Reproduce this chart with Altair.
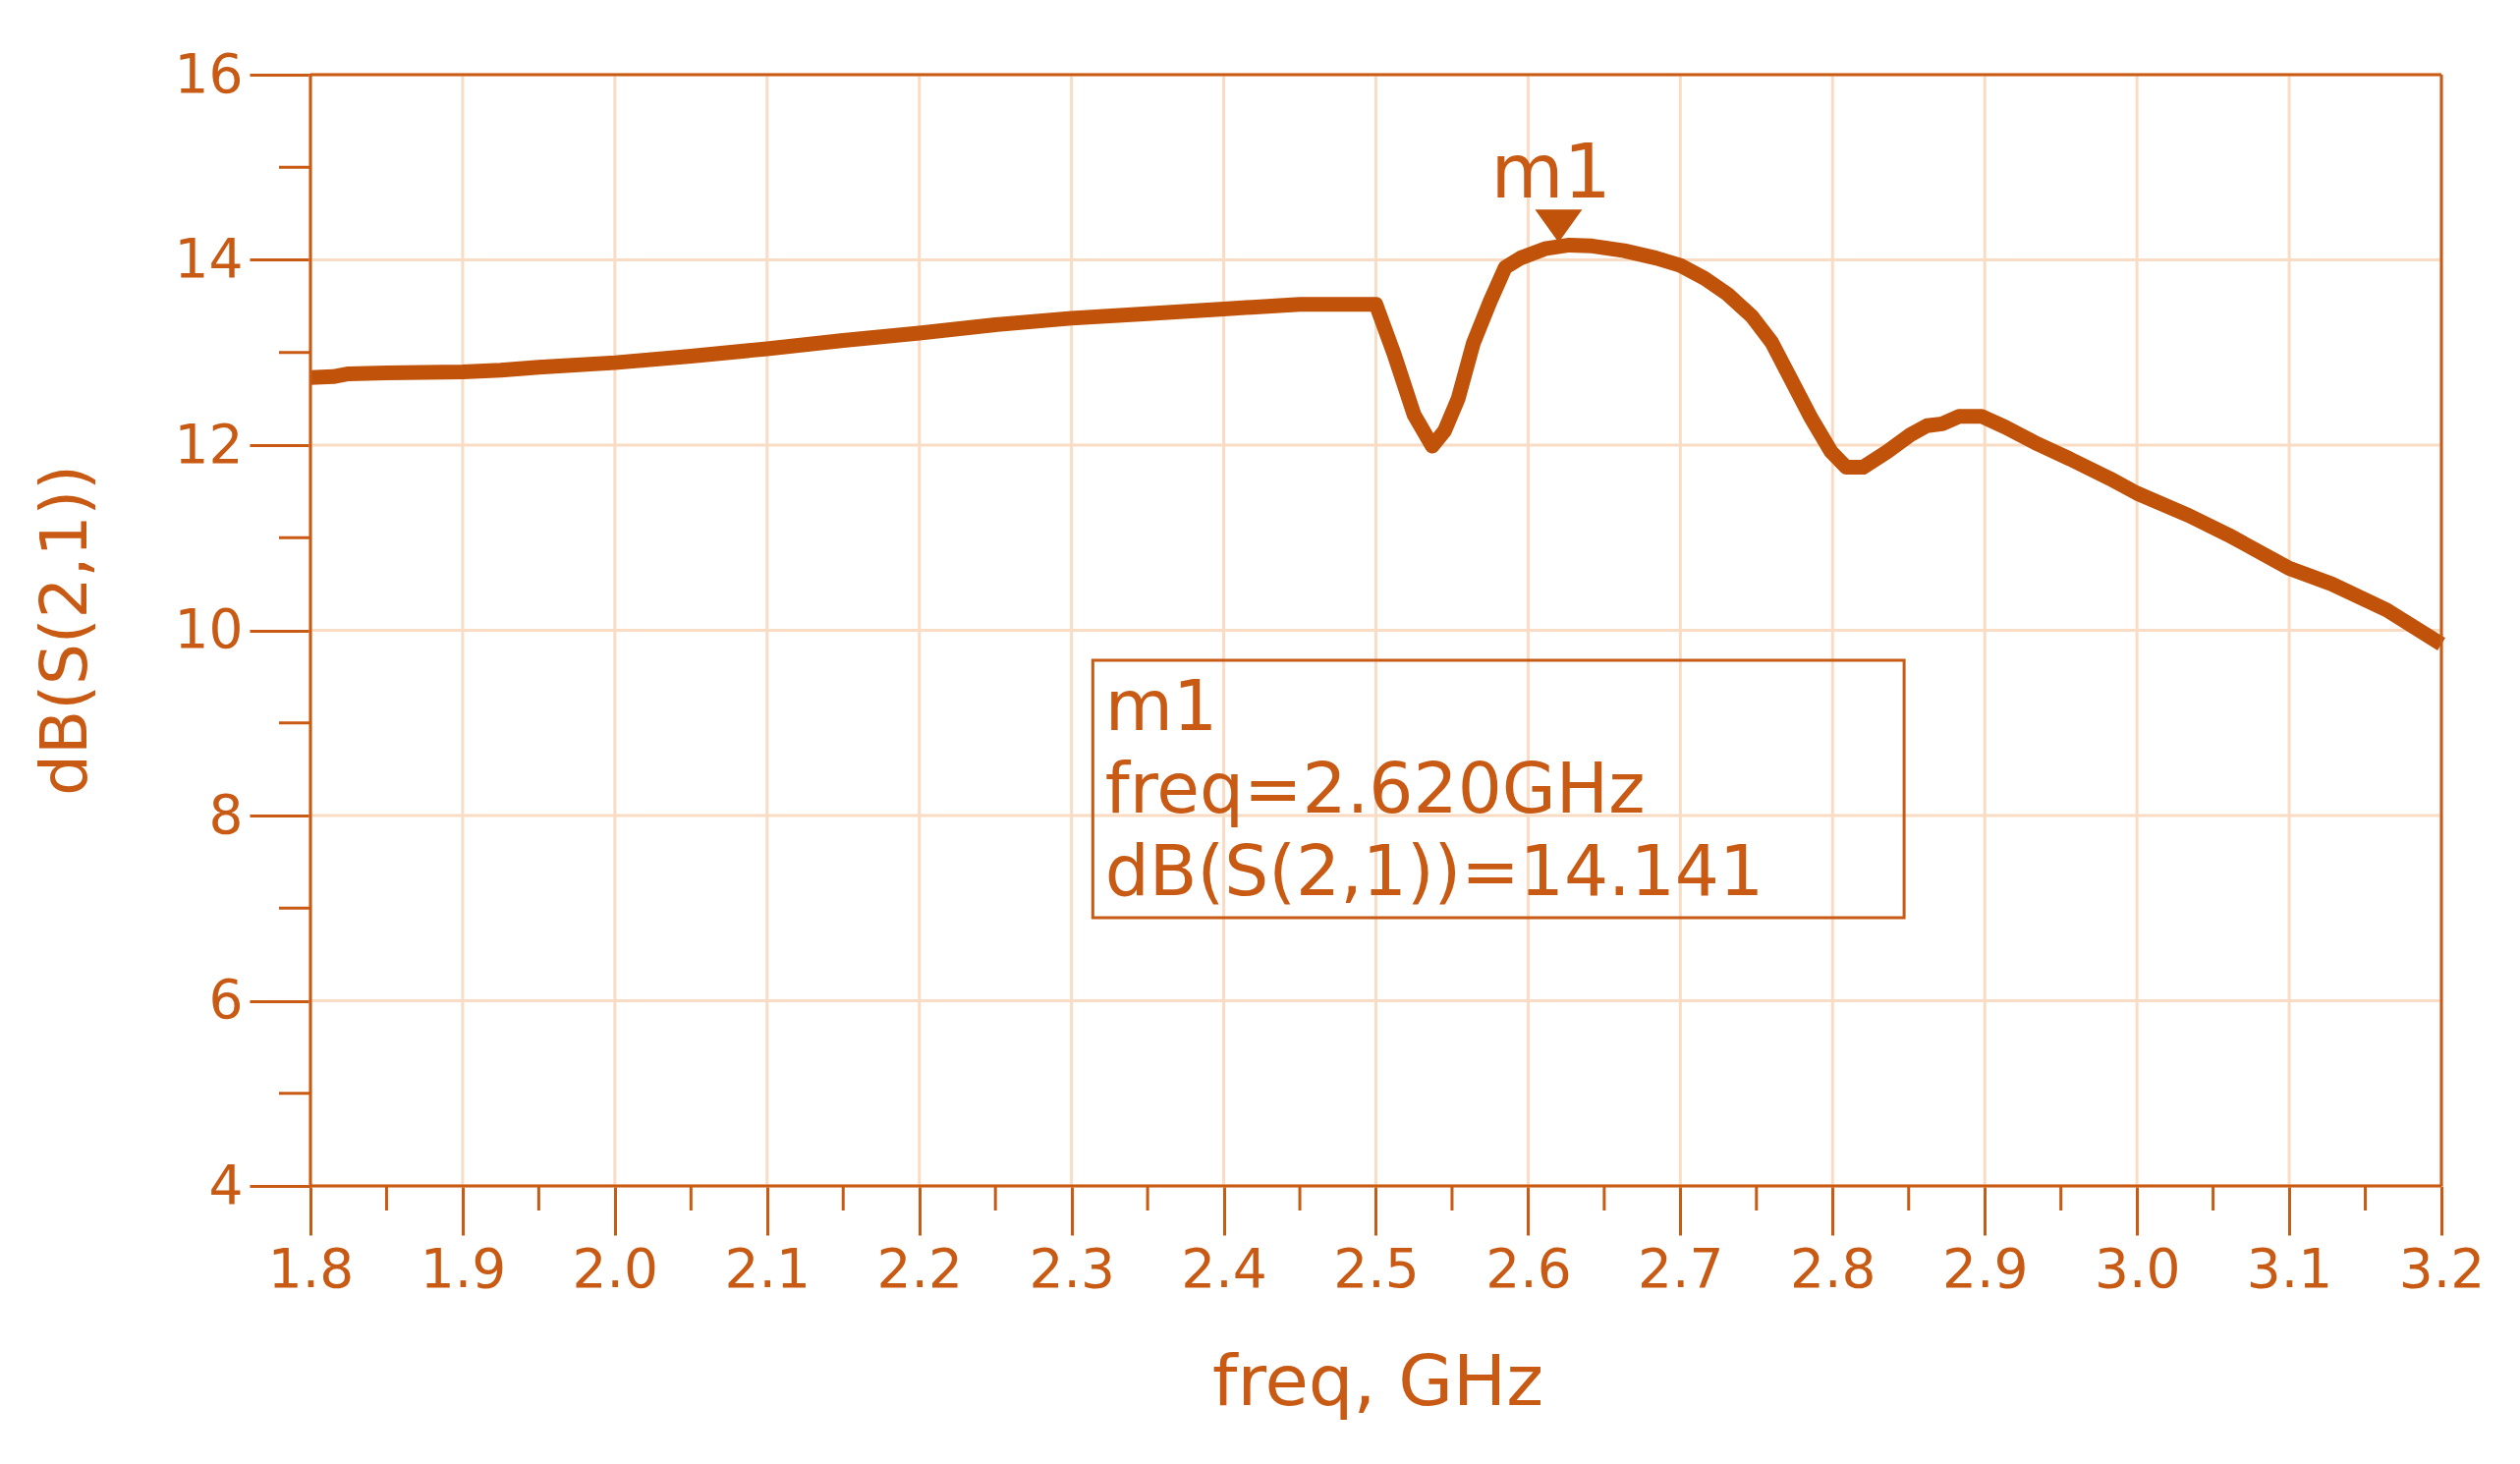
import altair as alt
import pandas as pd

# ---- data ----
freq = [1.800, 1.815, 1.825, 1.850, 1.900, 1.925, 1.950, 2.000, 2.050, 2.100,
        2.150, 2.200, 2.250, 2.300, 2.350, 2.400, 2.450, 2.500, 2.512, 2.525,
        2.537, 2.545, 2.554, 2.564, 2.575, 2.585, 2.595, 2.611, 2.627, 2.642,
        2.663, 2.684, 2.700, 2.716, 2.731, 2.747, 2.760, 2.773, 2.786, 2.799,
        2.809, 2.820, 2.836, 2.851, 2.862, 2.872, 2.883, 2.898, 2.914, 2.935,
        2.956, 2.982, 3.000, 3.034, 3.060, 3.100, 3.128, 3.164, 3.200]
s21_db = [12.73, 12.74, 12.77, 12.78, 12.79, 12.81, 12.84, 12.89, 12.96, 13.04,
          13.13, 13.21, 13.30, 13.37, 13.42, 13.47, 13.52, 13.52, 12.98, 12.33,
          11.99, 12.15, 12.50, 13.10, 13.55, 13.92, 14.02, 14.12, 14.16, 14.15,
          14.10, 14.02, 13.94, 13.80, 13.63, 13.39, 13.11, 12.70, 12.29, 11.93,
          11.76, 11.76, 11.93, 12.11, 12.21, 12.23, 12.31, 12.31, 12.19, 12.01,
          11.85, 11.64, 11.48, 11.24, 11.03, 10.67, 10.50, 10.22, 9.85]

x_major = [1.8, 1.9, 2.0, 2.1, 2.2, 2.3, 2.4, 2.5, 2.6, 2.7, 2.8, 2.9, 3.0, 3.1, 3.2]
x_minor = [1.85, 1.95, 2.05, 2.15, 2.25, 2.35, 2.45, 2.55, 2.65, 2.75, 2.85, 2.95, 3.05, 3.15]
y_major = [4, 6, 8, 10, 12, 14, 16]
y_minor = [5, 7, 9, 11, 13, 15]

marker_name = "m1"
marker_freq = 2.620
marker_value = 14.141
marker_lines = ["m1", "freq=2.620GHz", "dB(S(2,1))=14.141"]

# ---- annotation placement (data coordinates) ----
box_x = [2.314, 2.847]
box_y = [6.897, 9.676]
text_x = 2.322
text_y = [8.923, 8.032, 7.141]
tri_y = 14.366          # centre of the marker triangle (tip touches the curve)
label_x = 2.615
label_y = 14.674

# ---- styles ----
LINE = "#C0520A"
INK = "#C85A14"
GRID = "#FADCC4"
FONT = "DejaVu Sans"

W, H = 2169, 1131

curve = pd.DataFrame({"freq": freq, "dB": s21_db})

xscale = alt.Scale(domain=[1.8, 3.2], nice=False, zero=False)
yscale = alt.Scale(domain=[4, 16], nice=False, zero=False)

xaxis = alt.Axis(values=x_major, format=".1f", title="freq, GHz",
                 tickSize=50, tickWidth=3, tickColor=INK, domain=False,
                 labelFont=FONT, labelFontSize=55, labelColor=INK,
                 labelBaseline="alphabetic", labelPadding=52,
                 titleFont=FONT, titleFontSize=72, titleColor=INK,
                 titleFontWeight="normal", titleX=1086, titleY=222,
                 titleAlign="center", titleBaseline="alphabetic",
                 grid=False, labelFlush=False, labelOverlap=False)
yaxis = alt.Axis(values=y_major, format="d", title="dB(S(2,1))",
                 tickSize=62, tickWidth=3, tickColor=INK, domain=False,
                 labelFont=FONT, labelFontSize=55, labelColor=INK,
                 labelPadding=7, labelAlign="right", labelBaseline="middle",
                 titleFont=FONT, titleFontSize=66, titleColor=INK,
                 titleFontWeight="normal", titleX=-249, titleY=565,
                 titleAngle=270, titleAlign="center", titleBaseline="middle",
                 grid=False, labelFlush=False, labelOverlap=False)

# grid lines (under the curve)
xgrid = alt.Chart(pd.DataFrame({"freq": x_major})).mark_rule(
    color=GRID, strokeWidth=3).encode(
    x=alt.X("freq:Q", scale=xscale, axis=xaxis))
ygrid = alt.Chart(pd.DataFrame({"dB": y_major})).mark_rule(
    color=GRID, strokeWidth=3).encode(
    y=alt.Y("dB:Q", scale=yscale, axis=yaxis))

line = alt.Chart(curve).mark_line(color=LINE, strokeWidth=15,
                                  strokeJoin="round", strokeCap="butt").encode(
    x="freq:Q", y="dB:Q")

xminor = alt.Chart(pd.DataFrame({"freq": x_minor})).mark_rule(
    color=INK, strokeWidth=3).encode(
    x="freq:Q", y=alt.value(H), y2=alt.value(H + 25))

yminor = alt.Chart(pd.DataFrame({"dB": y_minor})).mark_rule(
    color=INK, strokeWidth=3).encode(
    y="dB:Q", x=alt.value(0), x2=alt.value(-32))

# plot frame
frame_h = alt.Chart(pd.DataFrame({"dB": [4, 16]})).mark_rule(
    color=INK, strokeWidth=3).encode(y="dB:Q")
frame_v = alt.Chart(pd.DataFrame({"freq": [1.8, 3.2]})).mark_rule(
    color=INK, strokeWidth=3).encode(x="freq:Q")

box = alt.Chart(pd.DataFrame({"freq": [box_x[0]], "f2": [box_x[1]],
                              "dB": [box_y[0]], "d2": [box_y[1]]})).mark_rect(
    fillOpacity=0, stroke=INK, strokeWidth=3).encode(
    x="freq:Q", x2="f2", y="dB:Q", y2="d2")

box_text = alt.Chart(pd.DataFrame({"freq": [text_x] * 3, "dB": text_y,
                                   "t": marker_lines})).mark_text(
    align="left", baseline="alphabetic", font=FONT, fontSize=71,
    color=INK).encode(x="freq:Q", y="dB:Q", text="t:N")

marker = alt.Chart(pd.DataFrame({"freq": [marker_freq], "dB": [tri_y]})).mark_point(
    shape="M-1,-0.7L1,-0.7L0,0.7Z", size=2304, filled=True, color=LINE,
    opacity=1).encode(x="freq:Q", y="dB:Q")

marker_label = alt.Chart(pd.DataFrame({"freq": [label_x], "dB": [label_y],
                                       "t": [marker_name]})).mark_text(
    align="center", baseline="alphabetic", font=FONT, fontSize=76,
    color=INK).encode(x="freq:Q", y="dB:Q", text="t:N")

chart = alt.layer(xgrid, ygrid, line, xminor, yminor, frame_h, frame_v, box,
                  box_text, marker, marker_label).properties(
    width=W, height=H,
    autosize=alt.AutoSizeParams(type="none"),
    padding={"left": 308, "top": 68, "right": 72, "bottom": 275},
    background="white",
).configure_view(stroke=None)

chart.save("out.html", embed_options={"renderer": "svg", "actions": False})
